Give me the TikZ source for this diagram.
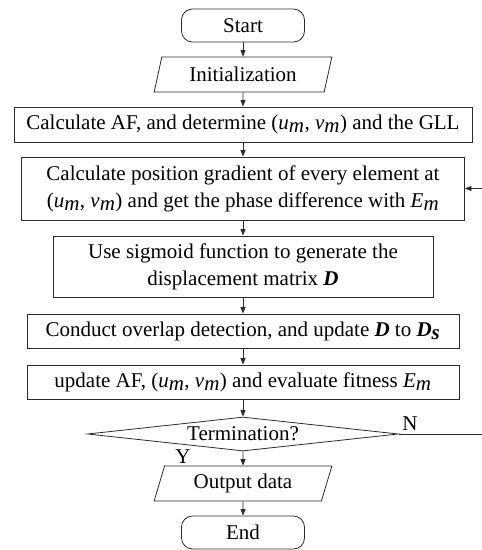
\documentclass[tikz,border=0pt]{standalone}
\usepackage{fontspec}
\setmainfont{Liberation Serif}
\usepackage{xcolor}
\usepackage{tikz}
\usetikzlibrary{positioning, arrows.meta, shapes.geometric}
\definecolor{flow-line}{HTML}{2B2B2B}
\newcommand{\sub}[2]{\textit{#1}$_{\textit{#2}}$}
\newcommand{\bD}{\textbf{\textit{D}}}

\begin{document}
\begin{tikzpicture}[x=1pt, y=-1pt,
    every node/.style={font=\fontsize{21}{27}\selectfont},
    box/.style={draw=flow-line, line width=0.8pt, inner sep=0pt, align=center},
    term/.style={box, rounded corners=11pt, minimum width=123pt, minimum height=33pt},
    io/.style={box, trapezium, trapezium left angle=71, trapezium right angle=109,
        trapezium stretches=true, minimum width=178pt, minimum height=35pt},
    decision/.style={box, diamond, aspect=9, minimum width=311pt, minimum height=34pt},
    link/.style={draw=flow-line, line width=0.8pt, -{Triangle[length=6.5pt, width=5pt]}},
]
    \useasboundingbox (0, 0) rectangle (482, 550);

    % Steps
    \node[term] (start) at (243, 25.5) {Start};
    \node[io] (init) at (243, 74.5) {Initialization};
    \node[box, minimum width=458pt, minimum height=35pt] (af) at (243, 124.5)
        {Calculate AF, and determine (\sub{u}{m}, \sub{v}{m}) and the GLL};
    \node[box, minimum width=443pt, minimum height=63pt] (grad) at (243, 188.5)
        {Calculate position gradient of every element at\\(\sub{u}{m}, \sub{v}{m}) and get the phase difference with \sub{E}{m}};
    \node[box, minimum width=380pt, minimum height=61pt] (sig) at (243, 266.5)
        {Use sigmoid function to generate the\\displacement matrix \bD};
    \node[box, minimum width=432pt, minimum height=34pt] (overlap) at (243, 331)
        {Conduct overlap detection, and update \bD{} to \bD$_{\textbf{\textit{s}}}$};
    \node[box, minimum width=432pt, minimum height=34pt] (update) at (243, 382)
        {update AF, (\sub{u}{m}, \sub{v}{m}) and evaluate fitness \sub{E}{m}};
    \node[decision] (term) at (243, 434) {Termination?};
    \node[io] (out) at (243, 483.5) {Output data};
    \node[term] (end) at (243, 532.5) {End};

    % Labels
    \node (ylab) at (183, 457) {Y};
    \node (nlab) at (410, 424) {N};

    % Arrows
    \draw[link] (start) -- (init);
    \draw[link] (init) -- (af);
    \draw[link] (af) -- (grad);
    \draw[link] (grad) -- (sig);
    \draw[link] (sig) -- (overlap);
    \draw[link] (overlap) -- (update);
    \draw[link] (update) -- (term);
    \draw[link] (term) -- (out);
    \draw[link] (out) -- (end);

    % Loop back
    \coordinate (loopout) at (482, 434);
    \coordinate (loopin) at (482, 188.5);
    \draw[draw=flow-line, line width=0.8pt] (term.east) -- (loopout);
    \draw[link] (loopin) -- (grad.east);
\end{tikzpicture}
\end{document}
